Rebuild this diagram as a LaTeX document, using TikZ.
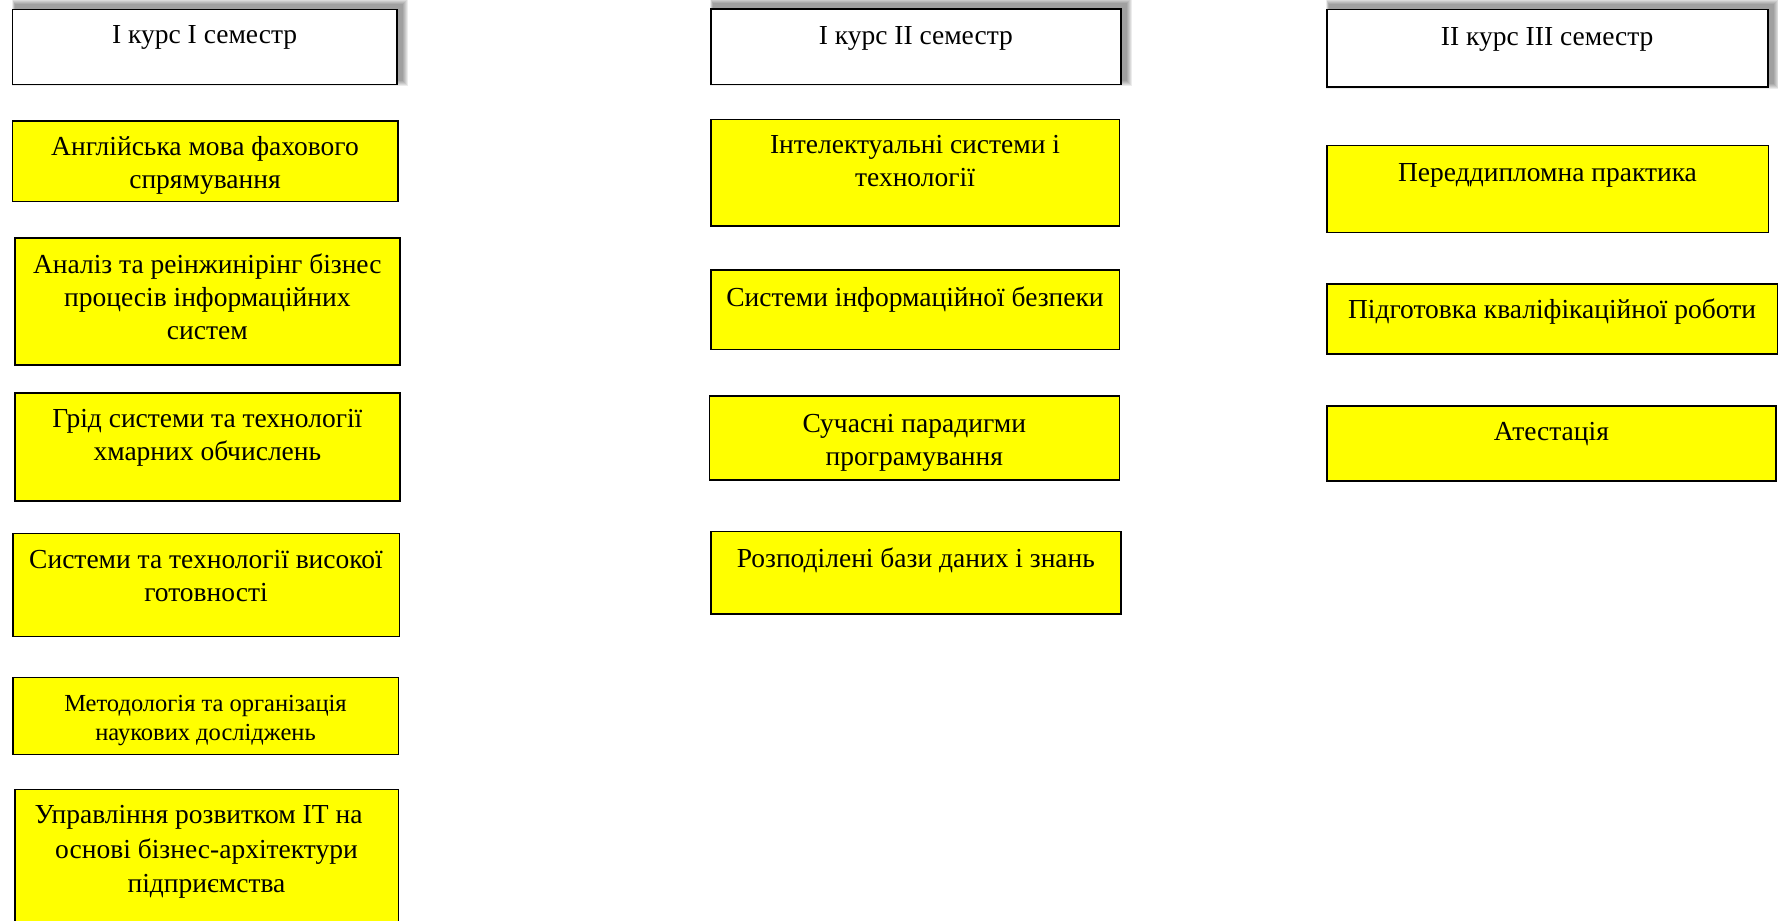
\documentclass[tikz,border=0pt]{standalone}
\usepackage{fontspec}
\setmainfont{Liberation Serif}
\usetikzlibrary{backgrounds}
\definecolor{yel}{RGB}{255,255,0}
\tikzset{
  box/.style={draw=black, line width=1.6pt, fill=yel, inner sep=0pt},
  headbox/.style={draw=black, line width=1.6pt, fill=white, inner sep=0pt},
  txt/.style={anchor=north, inner sep=0pt, align=center, yshift=23.1pt, font=\fontsize{27.5}{33}\selectfont},
  smalltxt/.style={anchor=north, inner sep=0pt, align=center, yshift=20.5pt, font=\fontsize{24.5}{29.3}\selectfont},
}
\begin{document}
\begin{tikzpicture}[x=1pt,y=-1pt]
\useasboundingbox (0,0) rectangle (1778,921);
\clip (0,0) rectangle (1778,921);
% headers
\node[headbox, minimum width=384.7pt, minimum height=75pt] (h1) at (204.65,46.8) {};
\node[headbox, minimum width=410.3pt, minimum height=75.6pt] (h2) at (915.85,46.6) {};
\node[headbox, minimum width=441pt, minimum height=77.4pt] (h3) at (1547.2,48) {};
\begin{scope}[on background layer]
\foreach \h in {h1,h2,h3}{
  \foreach \g in {0,1,...,5}{
    \fill[black,opacity=0.075] ([shift={(3-0.5*\g,-5-\g)}]\h.north west) rectangle ([shift={(5+\g,-4+\g)}]\h.south east);
  }
}
\end{scope}
\node[txt] (h1t) at (204.65,43.3) {\strut І курс І семестр};
\node[txt] (h2t) at (915.85,44.2) {\strut І курс ІІ семестр};
\node[txt] (h3t) at (1547.2,45) {\strut ІІ курс ІІІ семестр};
% column A
\node[box, minimum width=385.4pt, minimum height=80.6pt] (a1) at (205,161) {};
\node[box, minimum width=385.3pt, minimum height=126.7pt] (a2) at (207.35,301.35) {};
\node[box, minimum width=385.3pt, minimum height=108pt] (a3) at (207.35,446.8) {};
\node[box, minimum width=386.6pt, minimum height=102.8pt] (a4) at (206,585) {};
\node[box, minimum width=385.6pt, minimum height=77pt] (a5) at (205.5,715.9) {};
\node[box, minimum width=383.6pt, minimum height=170.4pt] (a6) at (206.5,874.8) {};
\node[txt] (a1t) at (205,155) {\strut Англійська мова фахового\\спрямування};
\node[txt] (a2t) at (207.35,273.3) {\strut Аналіз та реінжинірінг бізнес\\процесів інформаційних\\систем};
\node[txt] (a3t) at (207.35,427.3) {\strut Грід системи та технології\\хмарних обчислень};
\node[txt] (a4t) at (206,568) {\strut Системи та технології високої\\готовності};
\node[smalltxt] (a5t) at (205.5,711.3) {\strut Методологія та організація\\наукових досліджень};
\node[txt, font=\fontsize{27.5}{34.5}\selectfont, yshift=1.05pt] (a6t) at (206.5,823.4) {\strut Управління розвитком ІТ на\hspace*{16pt}\\основі бізнес-архітектури\hspace*{18pt}\\підприємства};
% column B
\node[box, minimum width=408.6pt, minimum height=106.9pt] (b1) at (915,172.75) {};
\node[box, minimum width=408.6pt, minimum height=79.5pt] (b2) at (915,309.75) {};
\node[box, minimum width=410pt, minimum height=84.4pt] (b3) at (914.3,437.9) {};
\node[box, minimum width=410.3pt, minimum height=82.4pt] (b4) at (915.85,572.7) {};
\node[txt] (b1t) at (915,153.5) {\strut Інтелектуальні системи і\\технології};
\node[txt] (b2t) at (915,306) {\strut Системи інформаційної безпеки};
\node[txt] (b3t) at (914.3,431.9) {\strut Сучасні парадигми\\програмування};
\node[txt] (b4t) at (915.85,567.7) {\strut Розподілені бази даних і знань};
% column C
\node[box, minimum width=441.6pt, minimum height=87pt] (c1) at (1547.5,188.8) {};
\node[box, minimum width=450.6pt, minimum height=70pt] (c2) at (1552,319) {};
\node[box, minimum width=449.3pt, minimum height=74.7pt] (c3) at (1551.35,443.35) {};
\node[txt] (c1t) at (1547.5,181.7) {\strut Переддипломна практика};
\node[txt] (c2t) at (1552,318.3) {\strut Підготовка кваліфікаційної роботи};
\node[txt] (c3t) at (1551.35,440) {\strut Атестація};
\end{tikzpicture}
\end{document}
